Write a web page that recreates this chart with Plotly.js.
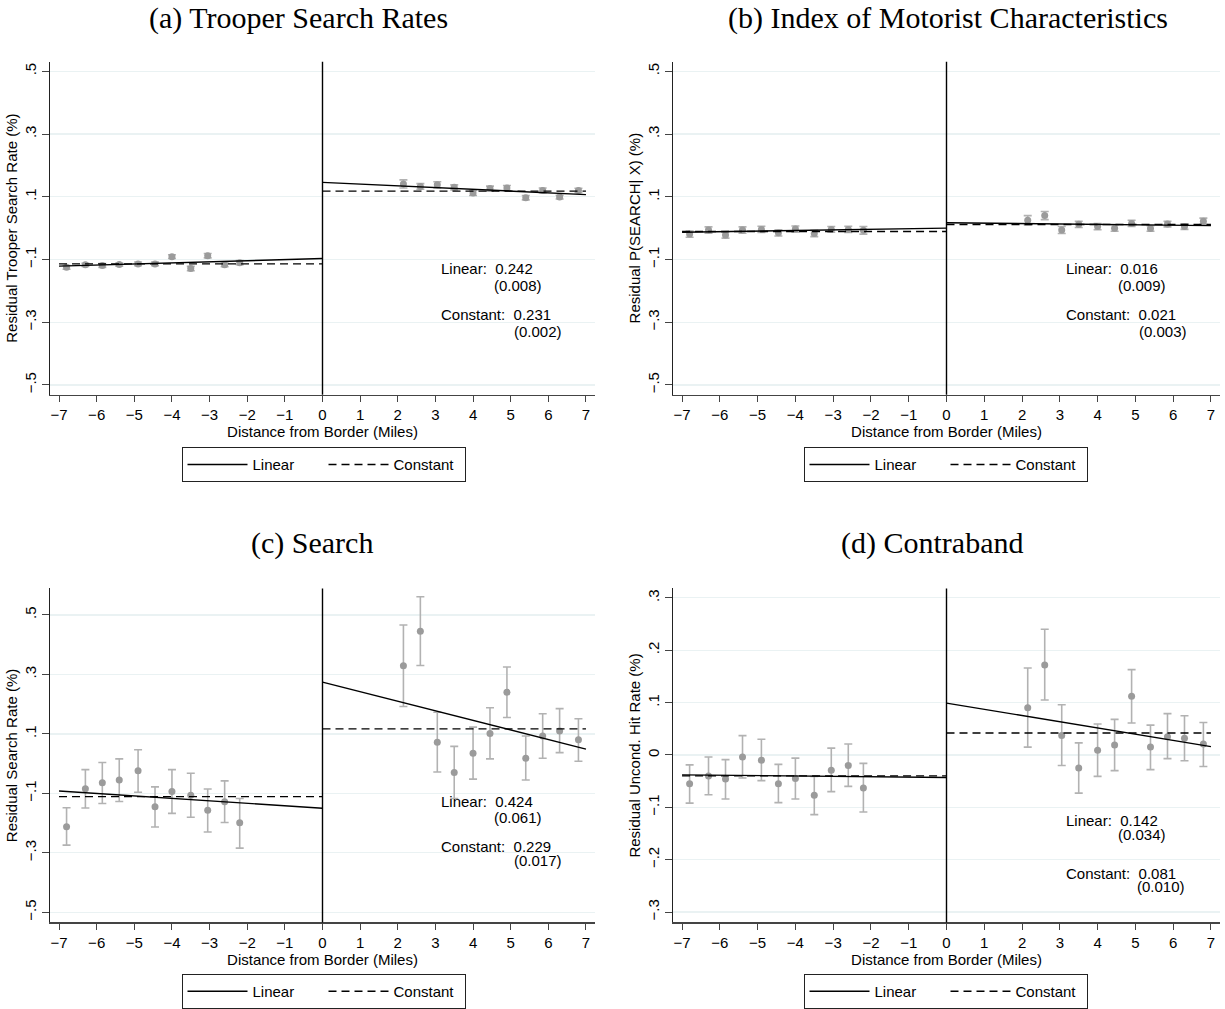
<!DOCTYPE html>
<html><head><meta charset="utf-8">
<script src="https://cdn.plot.ly/plotly-3.0.1.min.js"></script>
<style>html,body{margin:0;padding:0;background:#fff;} #chart{width:1225px;height:1009px;}</style>
</head><body><div id="chart"></div>
<script>
// ---------- data ----------
const binsLeft  = [-6.8, -6.3, -5.85, -5.4, -4.9, -4.45, -4.0, -3.5, -3.05, -2.6, -2.2];
const binsRight = [2.15, 2.6, 3.05, 3.5, 4.0, 4.45, 4.9, 5.4, 5.85, 6.3, 6.8];
const fitXLeft  = [-7, 0];
const fitXRight = [0, 7];
const borderX = 0;
const xTickVals = [-7,-6,-5,-4,-3,-2,-1,0,1,2,3,4,5,6,7];

const panelTitles = ['(a) Trooper Search Rates', '(b) Index of Motorist Characteristics', '(c) Search', '(d) Contraband'];
const yTitles = ['Residual Trooper Search Rate (%)', 'Residual P(SEARCH| X) (%)', 'Residual Search Rate (%)', 'Residual Uncond. Hit Rate (%)'];
const xTitle = 'Distance from Border (Miles)';
const yTickValsWide = [-0.5, -0.3, -0.1, 0.1, 0.3, 0.5];
const yTickTextWide = ['\u2212.5', '\u2212.3', '\u2212.1', '.1', '.3', '.5'];
const yTickValsHit = [-0.3, -0.2, -0.1, 0, 0.1, 0.2, 0.3];
const yTickTextHit = ['\u2212.3', '\u2212.2', '\u2212.1', '0', '.1', '.2', '.3'];

// (a) Trooper search rates
const aLeftY  = [-0.125, -0.117, -0.119, -0.116, -0.114, -0.114, -0.091, -0.129, -0.088, -0.117, -0.110];
const aLeftE  = [0.006, 0.005, 0.006, 0.005, 0.006, 0.006, 0.006, 0.007, 0.007, 0.006, 0.007];
const aRightY = [0.141, 0.133, 0.138, 0.130, 0.112, 0.126, 0.128, 0.097, 0.120, 0.099, 0.120];
const aRightE = [0.013, 0.009, 0.010, 0.008, 0.008, 0.008, 0.008, 0.007, 0.008, 0.006, 0.007];
const aLinLeft = [-0.121, -0.097], aLinRight = [0.146, 0.107];
const aConLeft = -0.114, aConRight = 0.118;

// (b) Index of motorist characteristics
const bLeftY  = [-0.019, -0.006, -0.022, -0.006, -0.004, -0.015, -0.003, -0.017, -0.004, -0.004, -0.007];
const bLeftE  = [0.010, 0.010, 0.010, 0.010, 0.010, 0.010, 0.010, 0.010, 0.009, 0.010, 0.012];
const bRightY = [0.025, 0.040, -0.006, 0.012, 0.005, 0.000, 0.015, -0.001, 0.013, 0.005, 0.022];
const bRightE = [0.015, 0.013, 0.011, 0.010, 0.010, 0.010, 0.010, 0.009, 0.009, 0.009, 0.010];
const bLinLeft = [-0.013, 0.000], bLinRight = [0.017, 0.008];
const bConLeft = -0.0105, bConRight = 0.0115;

// (c) Search
const cLeftY  = [-0.212, -0.084, -0.064, -0.055, -0.024, -0.145, -0.094, -0.106, -0.157, -0.128, -0.199];
const cLeftHi = [-0.148, -0.020, 0.004, 0.016, 0.047, -0.078, -0.020, -0.032, -0.085, -0.058, -0.117];
const cLeftLo = [-0.274, -0.149, -0.134, -0.127, -0.096, -0.213, -0.167, -0.180, -0.230, -0.198, -0.284];
const cRightY  = [0.329, 0.445, 0.072, -0.030, 0.035, 0.101, 0.240, 0.018, 0.093, 0.110, 0.080];
const cRightHi = [0.466, 0.561, 0.173, 0.058, 0.123, 0.188, 0.325, 0.093, 0.168, 0.185, 0.151];
const cRightLo = [0.192, 0.330, -0.028, -0.117, -0.052, 0.016, 0.155, -0.055, 0.018, 0.037, 0.008];
const cLinLeft = [-0.092, -0.150], cLinRight = [0.274, 0.049];
const cConLeft = -0.111, cConRight = 0.117;

// (d) Contraband
const dLeftY  = [-0.055, -0.040, -0.046, -0.004, -0.010, -0.055, -0.045, -0.077, -0.029, -0.020, -0.063];
const dLeftHi = [-0.019, -0.004, -0.009, 0.037, 0.030, -0.018, -0.006, -0.041, 0.013, 0.021, -0.016];
const dLeftLo = [-0.092, -0.076, -0.084, -0.044, -0.049, -0.091, -0.084, -0.114, -0.070, -0.060, -0.109];
const dRightY  = [0.090, 0.172, 0.037, -0.025, 0.009, 0.019, 0.112, 0.015, 0.035, 0.032, 0.021];
const dRightHi = [0.166, 0.240, 0.096, 0.023, 0.059, 0.068, 0.163, 0.057, 0.079, 0.075, 0.062];
const dRightLo = [0.015, 0.105, -0.020, -0.073, -0.041, -0.030, 0.061, -0.028, -0.007, -0.011, -0.022];
const dLinLeft = [-0.038, -0.043], dLinRight = [0.099, 0.016];
const dConLeft = -0.040, dConRight = 0.042;

// estimates shown in text
const linearEst = [0.242, 0.016, 0.424, 0.142];
const linearSE  = [0.008, 0.009, 0.061, 0.034];
const constEst  = [0.231, 0.021, 0.229, 0.081];
const constSE   = [0.002, 0.003, 0.017, 0.010];

// ---------- build ----------
const SANS = 'Liberation Sans, Arial, sans-serif';
const SERIF = 'Liberation Serif, Times New Roman, serif';
const ptColor = 'rgb(155,155,155)';
const barColor = 'rgb(178,178,178)';

const sym = (ys, es) => ({plus: es, minus: es});
const asym = (ys, hi, lo) => ({plus: ys.map((y,i)=>hi[i]-y), minus: ys.map((y,i)=>y-lo[i])});

const panels = [
  {lY:aLeftY, lE:sym(aLeftY,aLeftE), rY:aRightY, rE:sym(aRightY,aRightE), linL:aLinLeft, linR:aLinRight, conL:aConLeft, conR:aConRight},
  {lY:bLeftY, lE:sym(bLeftY,bLeftE), rY:bRightY, rE:sym(bRightY,bRightE), linL:bLinLeft, linR:bLinRight, conL:bConLeft, conR:bConRight},
  {lY:cLeftY, lE:asym(cLeftY,cLeftHi,cLeftLo), rY:cRightY, rE:asym(cRightY,cRightHi,cRightLo), linL:cLinLeft, linR:cLinRight, conL:cConLeft, conR:cConRight},
  {lY:dLeftY, lE:asym(dLeftY,dLeftHi,dLeftLo), rY:dRightY, rE:asym(dRightY,dRightHi,dRightLo), linL:dLinLeft, linR:dLinRight, conL:dConLeft, conR:dConRight}
];

const traces = [];
panels.forEach((p, i) => {
  const n = i === 0 ? '' : String(i + 1);
  const xa = 'x' + n, ya = 'y' + n, lg = 'legend' + n;
  traces.push({
    type:'scatter', mode:'markers', xaxis:xa, yaxis:ya, showlegend:false, hoverinfo:'skip',
    x: binsLeft.concat(binsRight), y: p.lY.concat(p.rY),
    marker:{color:ptColor, size:7},
    error_y:{type:'data', symmetric:false, array:p.lE.plus.concat(p.rE.plus), arrayminus:p.lE.minus.concat(p.rE.minus),
             color:barColor, thickness:1.6, width:4}
  });
  const solid = {color:'black', width:1.4};
  const dashed = {color:'black', width:1.4, dash:'8px,5px'};
  traces.push({type:'scatter', mode:'lines', xaxis:xa, yaxis:ya, x:fitXLeft, y:p.linL, line:solid, name:'Linear', legend:lg, showlegend:true, hoverinfo:'skip'});
  traces.push({type:'scatter', mode:'lines', xaxis:xa, yaxis:ya, x:fitXRight, y:p.linR, line:solid, name:'Linear', legend:lg, showlegend:false, hoverinfo:'skip'});
  traces.push({type:'scatter', mode:'lines', xaxis:xa, yaxis:ya, x:fitXLeft, y:[p.conL, p.conL], line:dashed, name:'Constant', legend:lg, showlegend:true, hoverinfo:'skip'});
  traces.push({type:'scatter', mode:'lines', xaxis:xa, yaxis:ya, x:fitXRight, y:[p.conR, p.conR], line:dashed, name:'Constant', legend:lg, showlegend:false, hoverinfo:'skip'});
});

const W = 1225, H = 1009;
const colX = [[50/W, 595/W], [673/W, 1220/W]];
const rowY = [[1-397/H, 1-62/H], [1-928/H, 1-592/H]];
const yRanges = [[-0.531, 0.531], [-0.531, 0.531], [-0.534, 0.589], [-0.320, 0.318]];

const layout = {
  width: W, height: H, margin:{l:0, r:0, t:0, b:0},
  paper_bgcolor:'white', plot_bgcolor:'white',
  font:{family:SANS, color:'black', size:15},
  shapes: [], annotations: []
};

const titlePos = [[298, 18], [948, 18], [312, 546], [932, 546]];
const legendPos = [[323.5, 450], [945.5, 450], [323.5, 980], [945.5, 980]];
// text placement in data units: [x label, x se-linear, x se-const, y1, y2, y3, y4]
const textPos = [
  [3.1, 4.49, 5.03, -0.129, -0.182, -0.277, -0.330],
  [3.1, 4.49, 5.03, -0.129, -0.182, -0.277, -0.330],
  [3.1, 4.49, 5.03, -0.128, -0.180, -0.277, -0.326],
  [3.1, 4.48, 5.00, -0.126, -0.152, -0.227, -0.252]
];

for (let i = 0; i < 4; i++) {
  const n = i === 0 ? '' : String(i + 1);
  const col = i % 2, row = Math.floor(i / 2);
  const hit = i === 3;
  layout['xaxis' + n] = {
    domain: colX[col], anchor: 'y' + n, range: [-7.24, 7.24],
    tickvals: xTickVals, ticks:'outside', ticklen:6, tickwidth:1, tickcolor:'#444',
    showline:true, linecolor:'#444', linewidth:1.2, showgrid:false, zeroline:false,
    tickfont:{size:15, family:SANS}, fixedrange:true,
    title:{text:xTitle, font:{size:15, family:SANS}, standoff:3}
  };
  layout['yaxis' + n] = {
    domain: rowY[row], anchor: 'x' + n, range: yRanges[i],
    tickvals: hit ? yTickValsHit : yTickValsWide, ticktext: hit ? yTickTextHit : yTickTextWide,
    tickangle:-90, ticks:'outside', ticklen:7, tickwidth:1, tickcolor:'#444',
    showline:true, linecolor:'#222', linewidth:1.2, showgrid:true, gridcolor:'rgb(234,242,243)', gridwidth:1.2,
    zeroline:false, tickfont:{size:15, family:SANS}, fixedrange:true,
    title:{text:yTitles[i], font:{size:15, family:SANS}, standoff:0}
  };
  layout.shapes.push({type:'line', xref:'x' + n, yref:'y' + n + ' domain', x0:borderX, x1:borderX, y0:0, y1:1,
                      line:{color:'black', width:1.4}});
  layout.annotations.push({xref:'paper', yref:'paper', x:titlePos[i][0]/W, y:1 - titlePos[i][1]/H,
    xanchor:'center', yanchor:'middle', showarrow:false, text:panelTitles[i], font:{family:SERIF, size:30, color:'black'}});
  const t = textPos[i];
  const ann = (x, y, txt) => layout.annotations.push({xref:'x' + n, yref:'y' + n, x:x, y:y, xanchor:'left', yanchor:'middle',
    showarrow:false, text:txt, font:{family:SANS, size:15, color:'black'}});
  ann(t[0], t[3], 'Linear:\u00a0\u00a0' + linearEst[i].toFixed(3));
  ann(t[1], t[4], '(' + linearSE[i].toFixed(3) + ')');
  ann(t[0], t[5], 'Constant:\u00a0\u00a0' + constEst[i].toFixed(3));
  ann(t[2], t[6], '(' + constSE[i].toFixed(3) + ')');
  layout['legend' + n] = {
    x: legendPos[i][0]/W, y: 1 - legendPos[i][1]/H, xref:'paper', yref:'paper', xanchor:'center', yanchor:'top',
    orientation:'h', bgcolor:'white', bordercolor:'#222', borderwidth:1, font:{size:15, family:SANS},
    itemwidth:60, traceorder:'normal', entrywidth:66, entrywidthmode:'pixels', itemclick:false, itemdoubleclick:false
  };
}

Plotly.newPlot('chart', traces, layout, {displayModeBar:false, staticPlot:true});
</script>
</body></html>
